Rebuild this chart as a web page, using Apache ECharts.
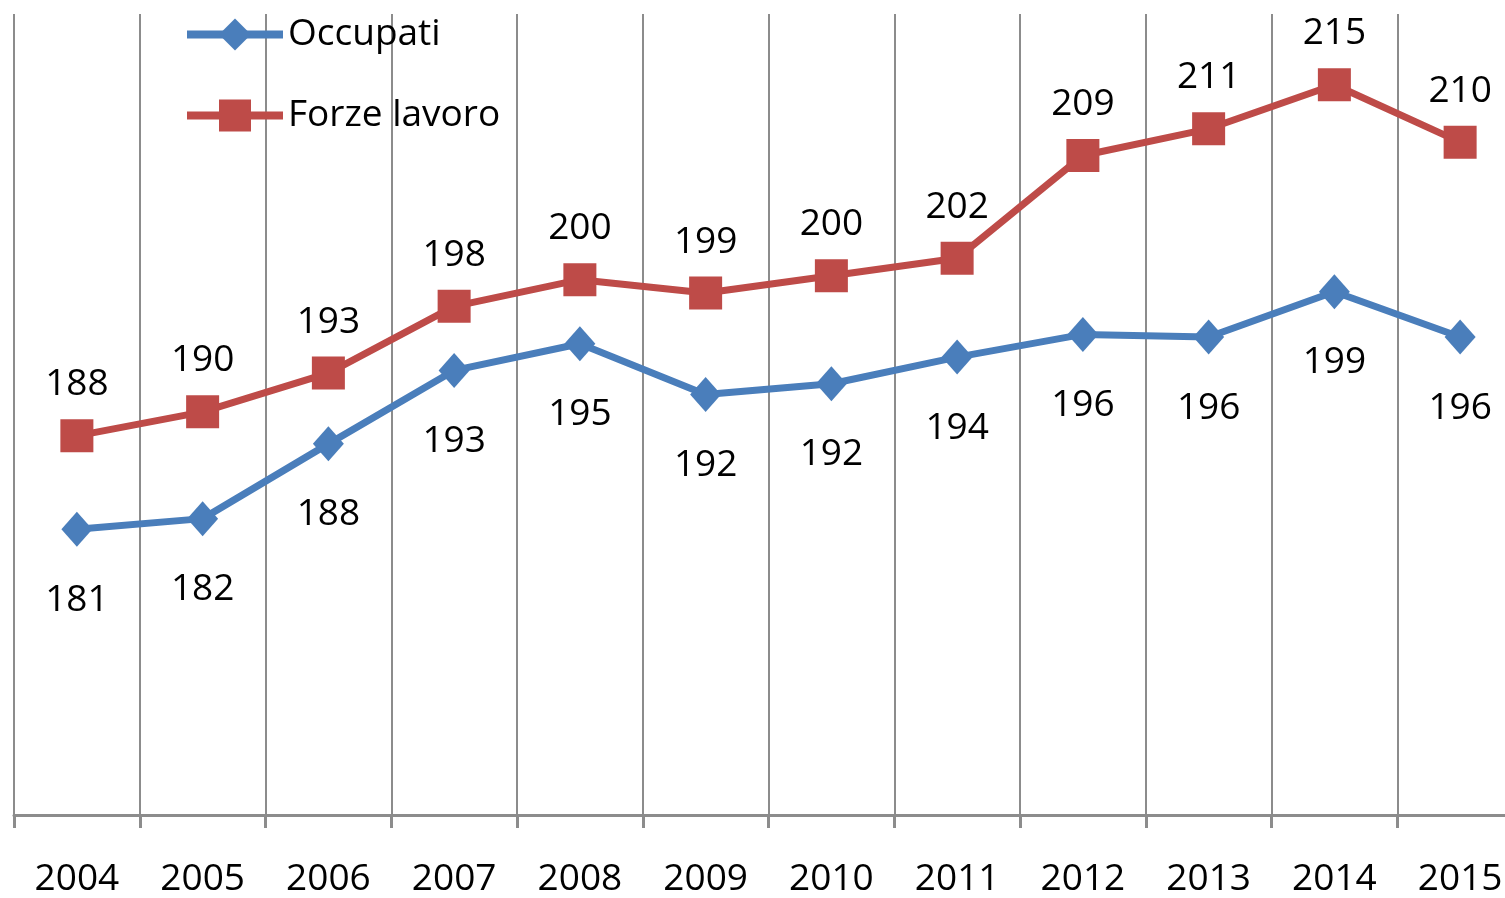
<!DOCTYPE html>
<html>
<head>
<meta charset="utf-8">
<script src="https://cdn.jsdelivr.net/npm/echarts@6/dist/echarts.min.js"></script>
<style>
html,body{margin:0;padding:0;background:#fff;overflow:hidden;width:1505px;height:898px;}
#chart{width:1523px;height:898px;}
</style>
</head>
<body>
<div id="chart"></div>
<script>
var years = ['2004','2005','2006','2007','2008','2009','2010','2011','2012','2013','2014','2015'];
var occupati = [181.4, 182.2, 187.8, 193.3, 195.3, 191.5, 192.3, 194.3, 196.0, 195.8, 199.2, 195.8];
var forzeLavoro = [188.4, 190.2, 193.1, 198.1, 200.1, 199.1, 200.4, 201.7, 209.4, 211.4, 214.7, 210.4];

var FONT = '"Open Sans", "Liberation Sans", sans-serif';
var chart = echarts.init(document.getElementById('chart'), null, {renderer: 'canvas'});
chart.setOption({
  animation: false,
  backgroundColor: '#ffffff',
  grid: {left: 14, right: 0, top: 14, bottom: 80, containLabel: false},
  legend: {
    orient: 'vertical',
    left: 183,
    top: 16,
    padding: 0,
    itemWidth: 96,
    itemHeight: 40,
    itemGap: 44,
    lineStyle: {width: 8},
    textStyle: {fontFamily: FONT, fontSize: 37, color: '#000'},
    data: ['Occupati', 'Forze lavoro']
  },
  xAxis: {
    type: 'category',
    data: years,
    boundaryGap: true,
    axisLine: {lineStyle: {color: '#8c8c8c', width: 3}},
    axisTick: {show: true, length: 13, lineStyle: {color: '#8c8c8c', width: 3}},
    splitLine: {show: true, lineStyle: {color: '#8c8c8c', width: 2}},
    axisLabel: {fontFamily: FONT, fontSize: 37, color: '#000', margin: 46}
  },
  yAxis: {
    type: 'value',
    min: 160,
    max: 220,
    show: false,
    splitLine: {show: false}
  },
  series: [
    {
      name: 'Occupati',
      type: 'line',
      data: occupati,
      symbol: 'diamond',
      symbolSize: [31, 35],
      color: '#4a7ebb',
      lineStyle: {color: '#4a7ebb', width: 7},
      itemStyle: {color: '#4a7ebb'},
      label: {
        show: true,
        position: 'bottom',
        distance: 35,
        fontFamily: FONT,
        fontSize: 37,
        color: '#000',
        formatter: function (p) { return Math.round(p.value); }
      }
    },
    {
      name: 'Forze lavoro',
      type: 'line',
      data: forzeLavoro,
      symbol: 'rect',
      symbolSize: 33,
      color: '#be4b48',
      lineStyle: {color: '#be4b48', width: 7},
      itemStyle: {color: '#be4b48'},
      label: {
        show: true,
        position: 'top',
        distance: 16,
        fontFamily: FONT,
        fontSize: 37,
        color: '#000',
        formatter: function (p) { return Math.round(p.value); }
      }
    }
  ]
});
</script>
</body>
</html>
